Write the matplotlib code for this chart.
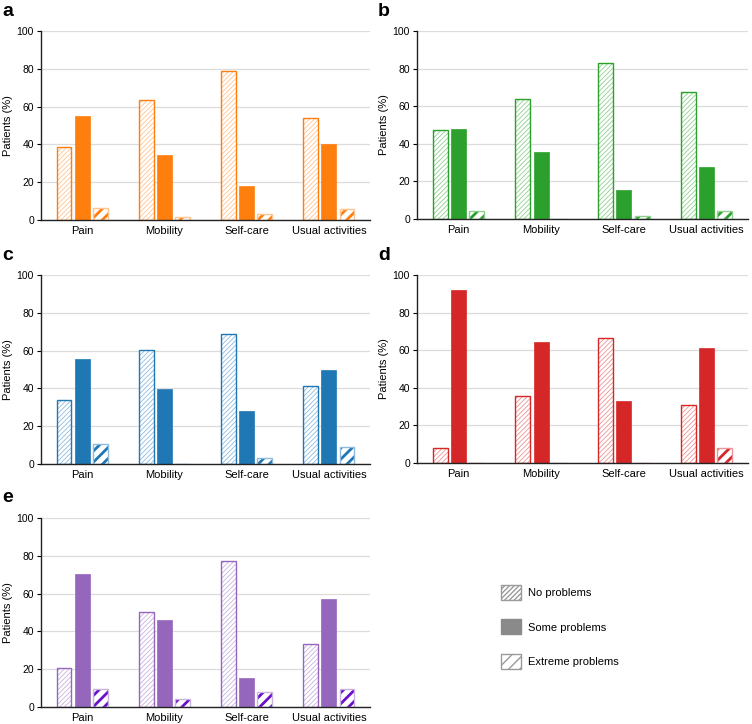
import matplotlib
matplotlib.use("Agg")
import matplotlib.pyplot as plt
import matplotlib.patches as mpatches
import numpy as np

plt.rcParams['font.family'] = ['Liberation Sans', 'DejaVu Sans']
plt.rcParams['font.size'] = 7.5

categories = ['Pain', 'Mobility', 'Self-care', 'Usual activities']
levels = ['No problems', 'Some problems', 'Extreme problems']

# panel a .. e : [no problems, some problems, extreme problems] per category
a_no = [38.4, 63.7, 79.0, 54.2]
a_some = [55.1, 34.2, 17.8, 40.0]
a_ext = [6.3, 1.8, 3.0, 5.6]

b_no = [47.3, 63.9, 83.2, 67.6]
b_some = [48.0, 35.8, 15.2, 27.8]
b_ext = [4.4, 0.0, 1.4, 4.2]

c_no = [33.7, 60.3, 69.0, 41.1]
c_some = [55.7, 39.5, 27.9, 49.7]
c_ext = [10.4, 0.0, 3.0, 9.0]

d_no = [7.8, 35.9, 66.6, 30.7]
d_some = [92.0, 64.1, 33.2, 61.3]
d_ext = [0.0, 0.0, 0.0, 7.8]

e_no = [20.6, 50.1, 77.4, 33.5]
e_some = [70.2, 46.2, 15.2, 57.3]
e_ext = [9.7, 4.1, 8.1, 9.7]

panels = [
    ('a', a_no, a_some, a_ext, '#ff7f0e', '#ffc48f', '#ff7f0e'),
    ('b', b_no, b_some, b_ext, '#2ca02c', '#8fd08f', '#2ca02c'),
    ('c', c_no, c_some, c_ext, '#1f77b4', '#8fbbe0', '#1f77b4'),
    ('d', d_no, d_some, d_ext, '#d62728', '#ec9495', '#d62728'),
    ('e', e_no, e_some, e_ext, '#9467bd', '#c9b3de', '#6a10c8'),
]

W, H = 752, 724
fig = plt.figure(figsize=(W / 100, H / 100), dpi=100)

# pixel boxes: (left, top, right, bottom)
boxes = [(41, 31, 370, 220), (417, 31, 748, 219),
         (41, 275, 370, 464), (417, 275, 748, 463),
         (41, 518, 370, 707)]

x = np.arange(len(categories))
bw = 0.18
off = 0.22

for (lab, no, some, ext, col, light, extcol), (l, t, r, b) in zip(panels, boxes):
    ax = fig.add_axes([l / W, 1 - b / H, (r - l) / W, (b - t) / H])
    ax.set_axisbelow(True)
    ax.yaxis.grid(True, color='#dcdcdc', linewidth=0.9)

    with plt.rc_context({'hatch.linewidth': 0.6}):
        ax.bar(x - off, no, bw, facecolor='white', edgecolor=light,
               hatch='///////', linewidth=0)
    ax.bar(x - off, no, bw, fill=False, edgecolor=col, linewidth=1.0)

    ax.bar(x, some, bw, color=col, edgecolor=col, linewidth=0.5)

    with plt.rc_context({'hatch.linewidth': 2.0}):
        ax.bar(x + off, ext, bw, facecolor='white', edgecolor=extcol,
               hatch='///', linewidth=0)
    ax.bar(x + off, ext, bw, fill=False, edgecolor=light, linewidth=1.0)

    ax.set_xlim(-0.5, 3.5)
    ax.set_ylim(0, 100)
    ax.set_yticks([0, 20, 40, 60, 80, 100])
    ax.set_xticks(x)
    ax.set_xticklabels(categories, fontsize=8)
    ax.tick_params(axis='x', length=0, pad=4)
    ax.tick_params(axis='y', length=3, width=0.8, labelsize=7.5, pad=2)
    for s in ['top', 'right']:
        ax.spines[s].set_visible(False)
    for s in ['left', 'bottom']:
        ax.spines[s].set_color('#222222')
        ax.spines[s].set_linewidth(1.0)
    ax.set_ylabel('Patients (%)', fontsize=8, labelpad=3)

    fig.text((l - 39) / W, 1 - (t - 20) / H, lab, fontsize=14,
             fontweight='bold', ha='left', va='center')

# legend
handles = [
    mpatches.Patch(facecolor='white', edgecolor='#9a9a9a', hatch='///////',
                   linewidth=1.0),
    mpatches.Patch(facecolor='#8a8a8a', edgecolor='#8a8a8a', linewidth=1.0),
    mpatches.Patch(facecolor='white', edgecolor='#9a9a9a', hatch='///',
                   linewidth=1.0),
]
leg = fig.legend(handles, levels, loc='upper left',
                 bbox_to_anchor=(491 / W, 1 - 575 / H), frameon=False,
                 fontsize=8, handlelength=1.8, handleheight=1.7,
                 labelspacing=1.75, handletextpad=0.6)

fig.savefig('out.png', dpi=100)
